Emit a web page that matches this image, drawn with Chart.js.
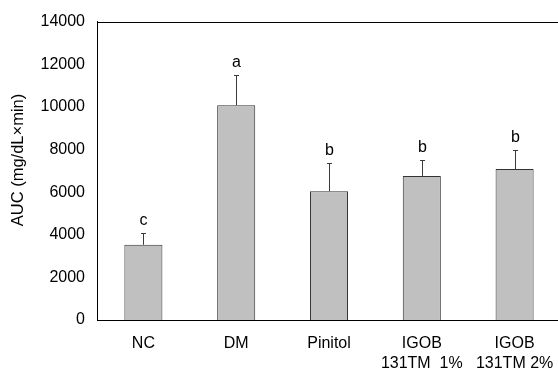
<!DOCTYPE html>
<html>
<head>
<meta charset="utf-8">
<script src="https://cdn.jsdelivr.net/npm/chart.js@4"></script>
<style>
  html, body { margin: 0; padding: 0; background: #fff; overflow: hidden; }
  #wrap { width: 558px; height: 372px; overflow: hidden; }
</style>
</head>
<body>
<div id="wrap"><canvas id="auc" width="561" height="372"></canvas></div>
<script>
const grups = ['NC', 'DM', 'Pinitol', ['IGOB', '131TM  1%'], ['IGOB', '131TM 2%']];
const mitjanes = [3530, 10080, 6040, 6760, 7080];
const errors = [540, 1400, 1320, 760, 900];
const lletres = ['c', 'a', 'b', 'b', 'b'];
const ticksY = [0, 2000, 4000, 6000, 8000, 10000, 12000, 14000];

const FONT = "'Liberation Sans', Arial, sans-serif";

// barres d'error + lletres de significacio
const errorBars = {
    id: 'errorBars',
    afterDatasetsDraw(chart) {
        const ctx = chart.ctx;
        const y = chart.scales.y;
        const meta = chart.getDatasetMeta(0);
        ctx.save();
        ctx.strokeStyle = '#3a3a3a';
        ctx.lineWidth = 1;
        meta.data.forEach((bar, i) => {
            const x = Math.round(bar.x) + 0.5;
            const yBase = y.getPixelForValue(mitjanes[i]);
            const yTop = Math.round(y.getPixelForValue(mitjanes[i] + errors[i])) + 0.5;
            ctx.beginPath();
            ctx.moveTo(x, yBase);
            ctx.lineTo(x, yTop);
            ctx.moveTo(x - 2.5, yTop);
            ctx.lineTo(x + 2.5, yTop);
            ctx.stroke();

            ctx.fillStyle = '#000';
            ctx.font = '16px ' + FONT;
            ctx.textAlign = 'center';
            ctx.textBaseline = 'alphabetic';
            ctx.fillText(lletres[i], x, yTop - 9);
        });
        ctx.restore();
    }
};

// linia superior del marc + titol de l'eix
const marc = {
    id: 'marc',
    afterDraw(chart) {
        const ctx = chart.ctx;
        const a = chart.chartArea;
        ctx.save();
        ctx.strokeStyle = '#000';
        ctx.lineWidth = 1;
        ctx.beginPath();
        ctx.moveTo(a.left, Math.round(a.top) + 0.5);
        ctx.lineTo(chart.width, Math.round(a.top) + 0.5);
        ctx.stroke();

        ctx.translate(18, 160);
        ctx.rotate(-Math.PI / 2);
        ctx.fillStyle = '#000';
        ctx.font = '16.5px ' + FONT;
        ctx.textAlign = 'center';
        ctx.textBaseline = 'middle';
        ctx.fillText('AUC (mg/dL×min)', 0, 0);
        ctx.restore();
    }
};

new Chart(document.getElementById('auc').getContext('2d'), {
    type: 'bar',
    data: {
        labels: grups,
        datasets: [{
            data: mitjanes,
            backgroundColor: '#c0c0c0',
            borderColor: '#333',
            borderWidth: 1,
            categoryPercentage: 1,
            barPercentage: 0.41
        }]
    },
    options: {
        responsive: false,
        animation: false,
        devicePixelRatio: 1,
        layout: { padding: { top: 19, right: 0, left: 0, bottom: 0 } },
        plugins: { legend: { display: false }, tooltip: { enabled: false } },
        scales: {
            x: {
                grid: { display: false, drawTicks: false },
                border: { display: true, color: '#000', width: 1 },
                ticks: {
                    color: '#000',
                    font: { family: FONT, size: 16, lineHeight: 1.25 },
                    padding: 14,
                    maxRotation: 0,
                    autoSkip: false
                },
                afterFit(s) {
                    s.height = 52;
                    s.paddingLeft = 0;
                    s.paddingRight = 0;
                }
            },
            y: {
                min: 0,
                max: 14000,
                afterBuildTicks(s) { s.ticks = ticksY.map(v => ({ value: v })); },
                grid: { display: false, drawTicks: false },
                border: { display: true, color: '#000', width: 1 },
                ticks: {
                    color: '#000',
                    font: { family: FONT, size: 16 },
                    padding: 12,
                    callback: v => String(v)
                },
                afterFit(s) { s.width = 97; }
            }
        }
    },
    plugins: [errorBars, marc]
});
</script>
</body>
</html>
